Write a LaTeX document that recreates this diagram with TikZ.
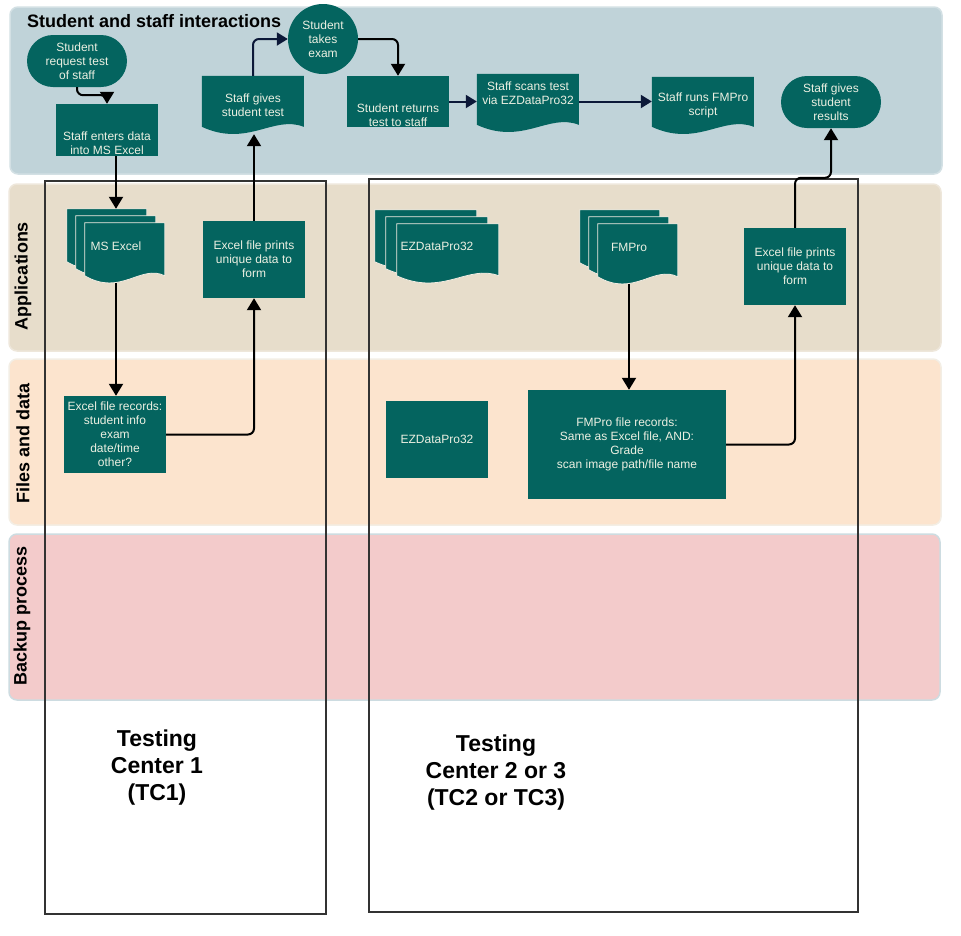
\documentclass[tikz,border=0pt]{standalone}
\usepackage{fontspec}
\setmainfont{Liberation Sans}
\usetikzlibrary{arrows.meta,shapes.misc}

\definecolor{boxteal}{RGB}{4,100,95}
\definecolor{boxtext}{RGB}{236,240,226}
\definecolor{laneblue}{RGB}{192,211,217}
\definecolor{lanetan}{RGB}{231,221,203}
\definecolor{lanepeach}{RGB}{252,228,206}
\definecolor{lanepink}{RGB}{243,203,203}
\definecolor{navy}{RGB}{12,24,56}

\pgfdeclarelayer{lanes}
\pgfdeclarelayer{sheets}
\pgfsetlayers{lanes,sheets,main}

% one sheet with a wavy lower edge: x, y, width, height, style
\newcommand\docsheet[5]{%
  \path[#5] ({#1},{#2}) -- ({(#1)+(#3)},{#2}) -- ({(#1)+(#3)},{(#2)+(#4)-7})
    .. controls ({(#1)+0.7*(#3)},{(#2)+(#4)-19}) and ({(#1)+0.45*(#3)},{(#2)+(#4)+14})
    .. ({#1},{(#2)+(#4)-7}) -- cycle;}
% document under a node: node, width, height
\newcommand\docat[3]{%
  \begin{scope}[shift={(#1.north west)}]
    \docsheet{0}{0}{#2}{#3}{fill=boxteal}
  \end{scope}}
% stack of three documents under a node: node, width, height, step
\newcommand\multidocat[4]{%
  \begin{scope}[shift={(#1.north west)}, sheetedge/.style={fill=boxteal, draw=lanetan!55!white, line width=0.8pt}]
    \docsheet{0}{0}{#2-2*#4}{#3-14}{sheetedge}
    \docsheet{#4}{7}{#2-2*#4}{#3-14}{sheetedge}
    \docsheet{2*#4}{14}{#2-2*#4}{#3-14}{sheetedge}
  \end{scope}}

\begin{document}
\begin{tikzpicture}[x=1pt, y=-1pt,
  lane/.style={rounded corners=8pt, line width=1.5pt},
  lanelabel/.style={rotate=90, font=\bfseries\fontsize{18}{20}\selectfont},
  boxlabel/.style={text=boxtext, align=center, font=\fontsize{12}{14}\selectfont},
  box/.style 2 args={boxlabel, fill=boxteal, minimum width=#1pt, minimum height=#2pt, inner sep=1pt},
  stadium/.style={boxlabel, rounded rectangle, fill=boxteal, minimum width=102pt, minimum height=52pt, inner sep=1pt},
  circ/.style={boxlabel, circle, fill=boxteal, minimum size=70pt, inner sep=0pt},
  doc/.style 2 args={boxlabel, minimum width=#1pt, minimum height=#2pt, inner sep=1pt},
  flow/.style={-{Triangle[length=12pt,width=14pt]}, line width=2pt, rounded corners=6pt},
  navyflow/.style={flow, navy, -{Triangle[length=11pt,width=13pt]}},
  center/.style={draw=black!80, line width=1.5pt},
  tclabel/.style={align=center, font=\bfseries\fontsize{23}{27}\selectfont}]
  \useasboundingbox (0,0) rectangle (961,935);

  % swim lanes
  \begin{pgfonlayer}{lanes}
  \draw[lane, fill=laneblue, draw=laneblue!70!white] (10,7) rectangle (942,174);
  \draw[lane, fill=lanetan, draw=lanetan!70!white] (9,184) rectangle (941,351);
  \draw[lane, fill=lanepeach, draw=lanetan!50!white] (9,359) rectangle (941,525);
  \draw[lane, fill=lanepink, draw=laneblue!80!white] (9,534) rectangle (940,700);
  \end{pgfonlayer}
  \node[anchor=west, inner sep=0pt, font=\bfseries\fontsize{18}{20}\selectfont] (title) at (27,21) {Student and staff interactions};
  \node[lanelabel] (applab) at (23,276) {Applications};
  \node[lanelabel] (filelab) at (23,443) {Files and data};
  \node[lanelabel] (backlab) at (22,616) {Backup process};

  % testing centers
  \draw[center] (45,181) rectangle (326,914);
  \draw[center] (369,179) rectangle (858,912);
  \node[tclabel] (tc1) at (157,768) {Testing\\Center 1\\(TC1)};
  \node[tclabel] (tc2) at (496,773) {Testing\\Center 2 or 3\\(TC2 or TC3)};

  % student and staff interactions
  \node[stadium] (request) at (77,61) {Student\\request test\\of staff};
  \node[box={102}{52}, label={[boxlabel, yshift=-13pt]center:Staff enters data\\into MS Excel}] (enter) at (107,130) {};
  \node[doc={102}{58}] (gives) at (253,105) {Staff gives\\student test};
  \node[circ] (takes) at (323,39) {Student\\takes\\exam};
  \node[box={102}{51}, label={[boxlabel, yshift=-14pt]center:Student returns\\test to staff}] (returns) at (398,101.5) {};
  \node[doc={102}{58}, label={[boxlabel, yshift=10pt]center:Staff scans test\\via EZDataPro32}] (scans) at (528,103) {};
  \node[doc={102}{57}] (runs) at (703,105.5) {Staff runs FMPro\\script};
  \node[stadium] (results) at (831,102) {Staff gives\\student\\results};

  % applications
  \node[doc={98}{74}] (msexcel) at (116,246) {MS Excel};
  \node[box={102}{77}] (xlprints) at (254,259.5) {Excel file prints\\unique data to\\form};
  \node[doc={124}{73}] (ezapp) at (437,246.5) {EZDataPro32};
  \node[doc={98}{74}] (fmapp) at (629,247) {FMPro};
  \node[box={102}{77}] (xlprints2) at (795,266.5) {Excel file prints\\unique data to\\form};

  % files and data
  \node[box={102}{77}] (xlrecords) at (115,434.5) {Excel file records:\\student info\\exam\\date/time\\other?};
  \node[box={102}{77}] (ezfile) at (437,439.5) {EZDataPro32};
  \node[box={198}{109}] (fmrecords) at (627,444.5) {FMPro file records:\\Same as Excel file, AND:\\Grade\\scan image path/file name};

  % document sheets behind the texts
  \begin{pgfonlayer}{sheets}
  \docat{gives}{102}{58}
  \docat{scans}{102}{58}
  \docat{runs}{102}{57}
  \multidocat{msexcel}{98}{74}{9}
  \multidocat{ezapp}{124}{73}{11}
  \multidocat{fmapp}{98}{74}{9}
  \end{pgfonlayer}

  % connectors
  \draw[flow] (request.south) -- ++(0,8) -| (enter.north);
  \draw[flow] (enter.south -| msexcel.north) -- (msexcel.north);
  \draw[flow] (msexcel.south) -- (msexcel.south |- xlrecords.north);
  \draw[flow] (xlrecords.east) -| (xlprints.south);
  \draw[flow] (xlprints.north) -- (xlprints.north |- gives.south);
  \draw[navyflow] (gives.north) |- (takes.west);
  \draw[flow] (takes.east) -| (returns.north);
  \draw[navyflow] (returns.east) -- (returns.east -| scans.west);
  \draw[navyflow] (scans.east |- returns.east) -- (returns.east -| runs.west);
  \draw[flow] (fmapp.south) -- (fmapp.south |- fmrecords.north);
  \draw[flow] (fmrecords.east) -| (xlprints2.south);
  \draw[flow] (xlprints2.north) -- ++(0,-50) -| (results.south);
\end{tikzpicture}
\end{document}
